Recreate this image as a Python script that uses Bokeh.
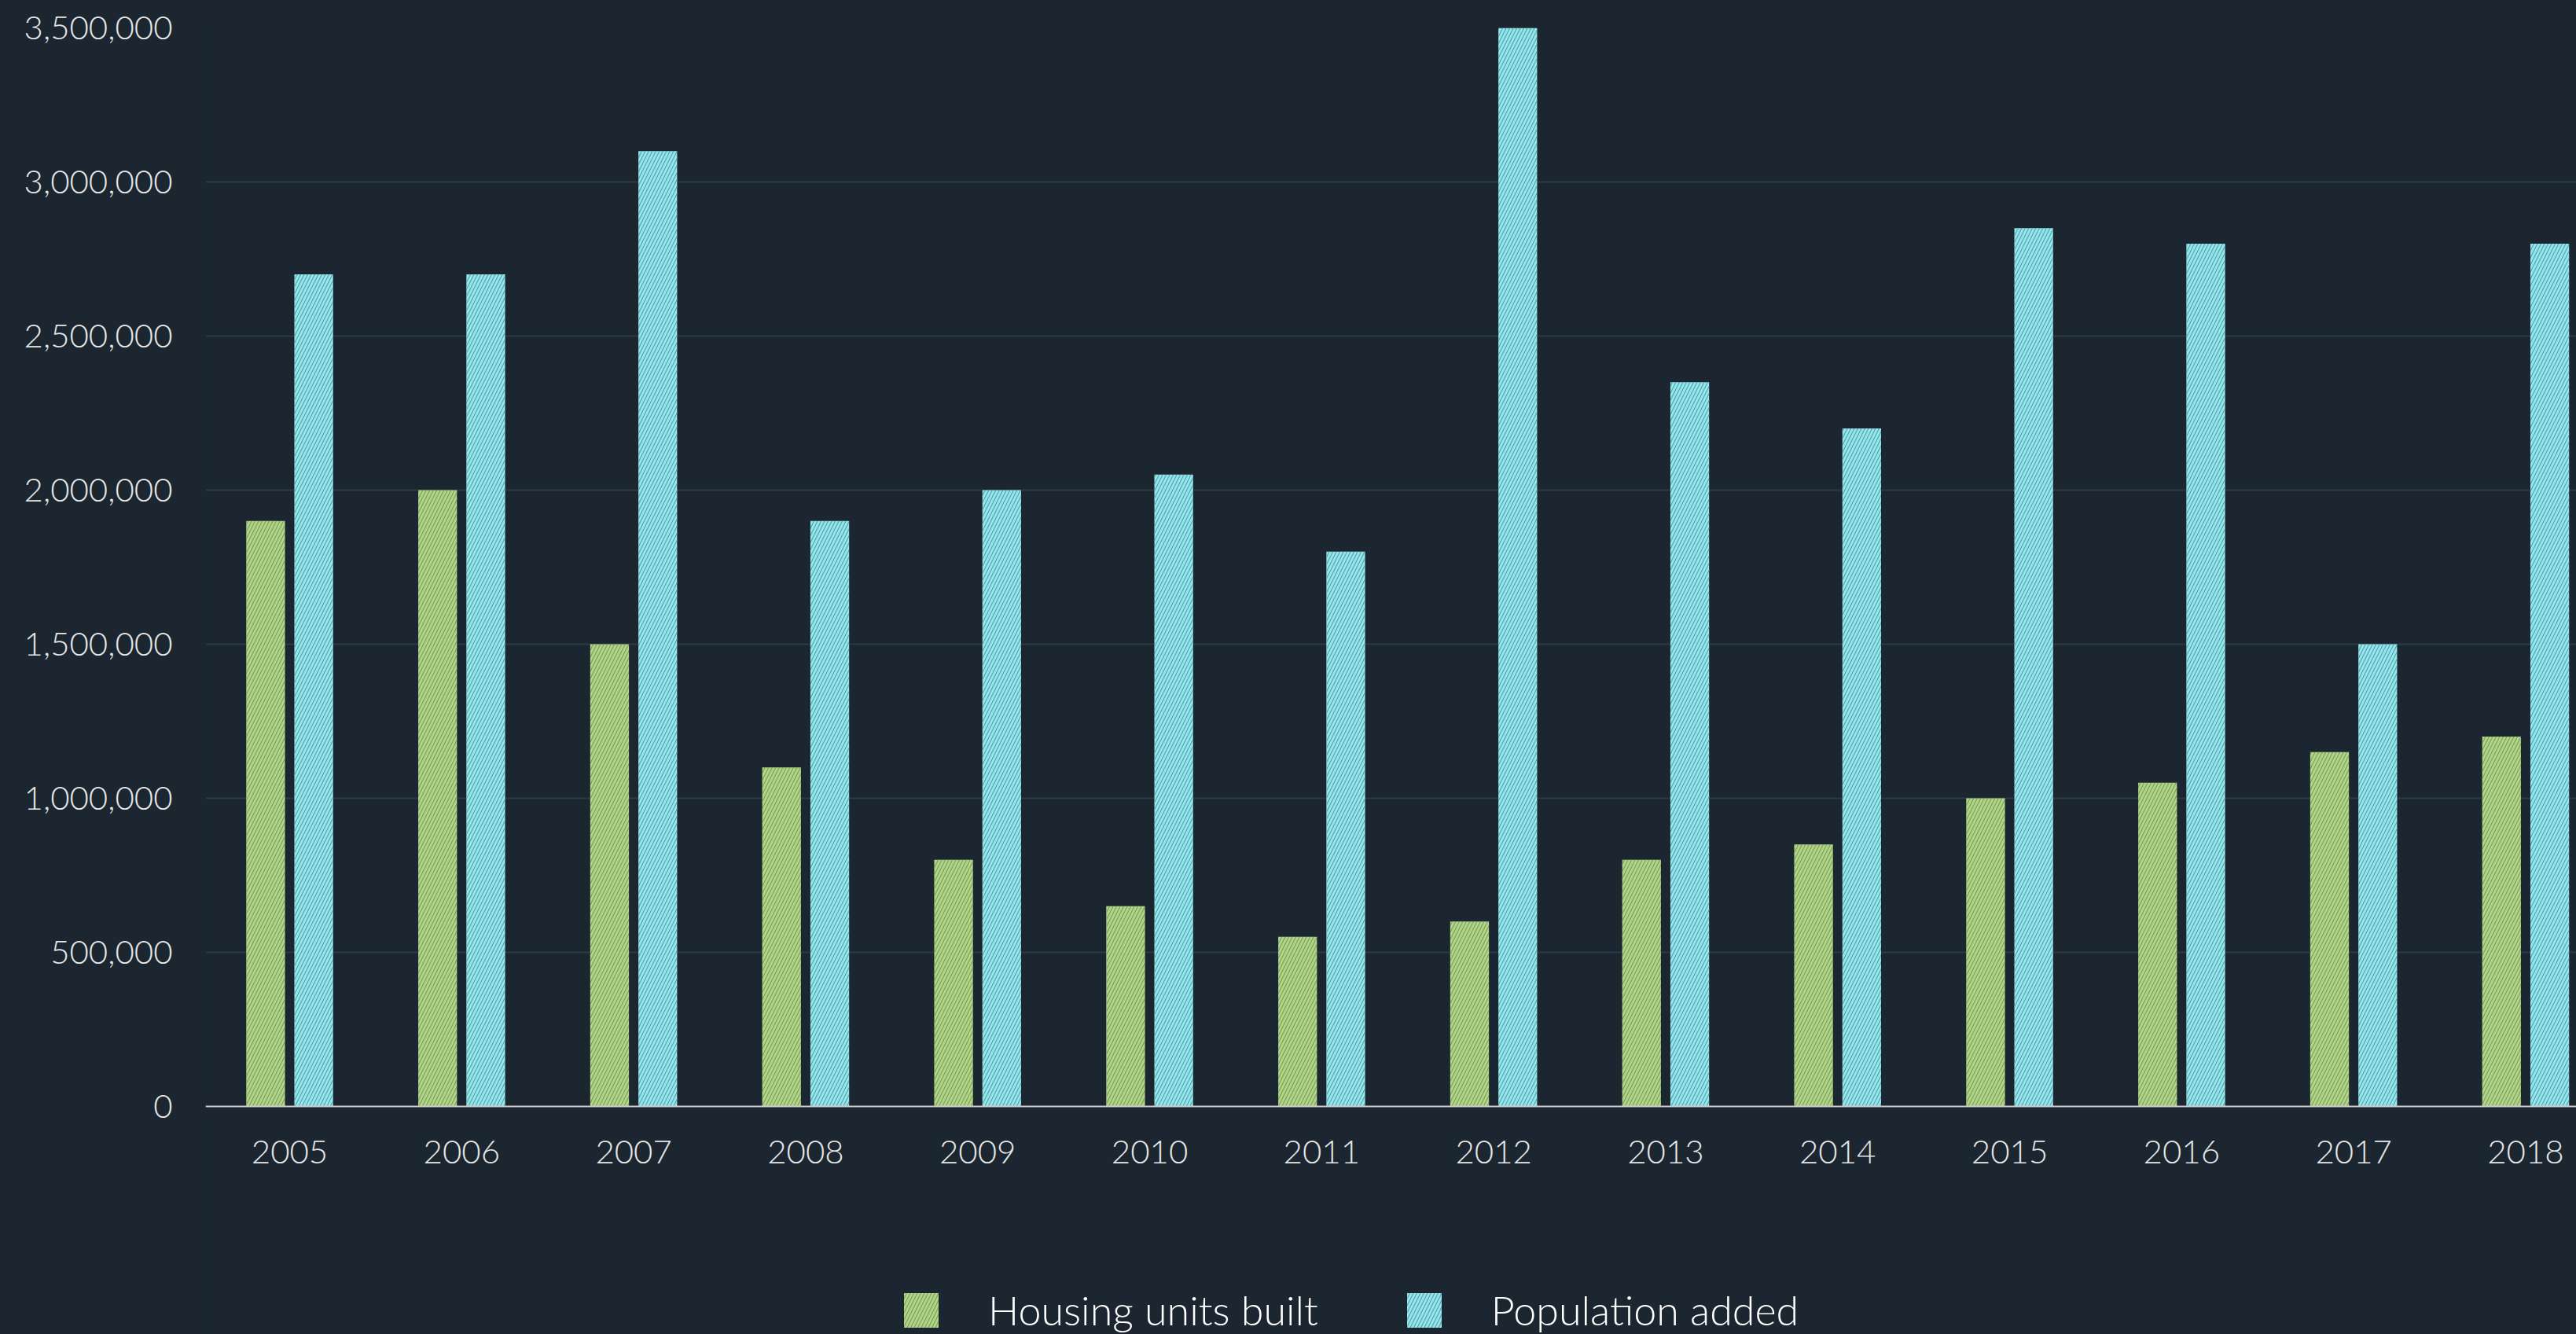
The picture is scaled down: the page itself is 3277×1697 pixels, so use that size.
from bokeh.plotting import figure
from bokeh.models import ColumnDataSource, Legend, LegendItem, FixedTicker, NumeralTickFormatter, Range1d
from bokeh.transform import dodge
from bokeh.embed import file_html
from bokeh.resources import INLINE

years = [2005, 2006, 2007, 2008, 2009, 2010, 2011, 2012, 2013, 2014, 2015, 2016, 2017, 2018]
housing_units_built = [1900000, 2000000, 1500000, 1100000, 800000, 650000, 550000, 600000,
                       800000, 850000, 1000000, 1050000, 1150000, 1200000]
population_added = [2700000, 2700000, 3100000, 1900000, 2000000, 2050000, 1800000, 3500000,
                    2350000, 2200000, 2850000, 2800000, 1500000, 2800000]
y_ticks = [0, 500000, 1000000, 1500000, 2000000, 2500000, 3000000, 3500000]
series_names = ["Housing units built", "Population added"]

BG = "#1b2630"
FONT = "Lato Light"

src = ColumnDataSource(dict(year=years, housing=housing_units_built, pop=population_added))

# the lower part of the frame (below zero) holds the year labels and the legend
p = figure(width=3277, height=1697, output_backend="svg", toolbar_location=None,
           x_range=Range1d(2004.511, 2018.295), y_range=Range1d(-740000, 3500000),
           min_border_left=261, min_border_right=0, min_border_top=35, min_border_bottom=0,
           background_fill_color=BG, border_fill_color=BG, outline_line_color=None)
p.styles = {"background-color": BG}

r1 = p.vbar(x=dodge("year", -0.14, range=p.x_range), top="housing", width=0.225, source=src,
            fill_color="#b3d48e", line_color=None,
            hatch_pattern="/", hatch_color="#78a34b", hatch_scale=9, hatch_weight=1.2)
r2 = p.vbar(x=dodge("year", 0.14, range=p.x_range), top="pop", width=0.225, source=src,
            fill_color="#a0e2e8", line_color=None,
            hatch_pattern="/", hatch_color="#3aaeb8", hatch_scale=9, hatch_weight=1.2)

p.xgrid.grid_line_color = None
p.ygrid.ticker = FixedTicker(ticks=y_ticks[1:])
p.ygrid.grid_line_color = "#2d3a45"
p.ygrid.grid_line_width = 2

p.xaxis.fixed_location = 0
p.xaxis.ticker = FixedTicker(ticks=years)
p.xaxis.axis_line_color = "#d0d0d0"
p.xaxis.axis_line_width = 2
p.xaxis.major_tick_line_color = None
p.xaxis.minor_tick_line_color = None
p.xaxis.major_label_text_font = FONT
p.xaxis.major_label_text_font_size = "42px"
p.xaxis.major_label_text_color = "#e6e6e6"
p.xaxis.major_label_standoff = 38

p.yaxis.ticker = FixedTicker(ticks=y_ticks)
p.yaxis.formatter = NumeralTickFormatter(format="0,0")
p.yaxis.axis_line_color = None
p.yaxis.major_tick_line_color = None
p.yaxis.minor_tick_line_color = None
p.yaxis.major_label_text_font = FONT
p.yaxis.major_label_text_font_size = "42px"
p.yaxis.major_label_text_color = "#e6e6e6"
p.yaxis.major_label_standoff = 36

legend = Legend(items=[LegendItem(label=series_names[0], renderers=[r1]),
                       LegendItem(label=series_names[1], renderers=[r2])],
                location=(883, 0), orientation="horizontal",
                background_fill_alpha=0, border_line_color=None,
                padding=0, margin=0, spacing=107, label_standoff=58,
                glyph_width=55, glyph_height=55,
                label_text_font=FONT, label_text_font_size="52px", label_text_color="#ffffff")
p.add_layout(legend, "center")

open("out.html", "w").write(file_html(p, INLINE))
